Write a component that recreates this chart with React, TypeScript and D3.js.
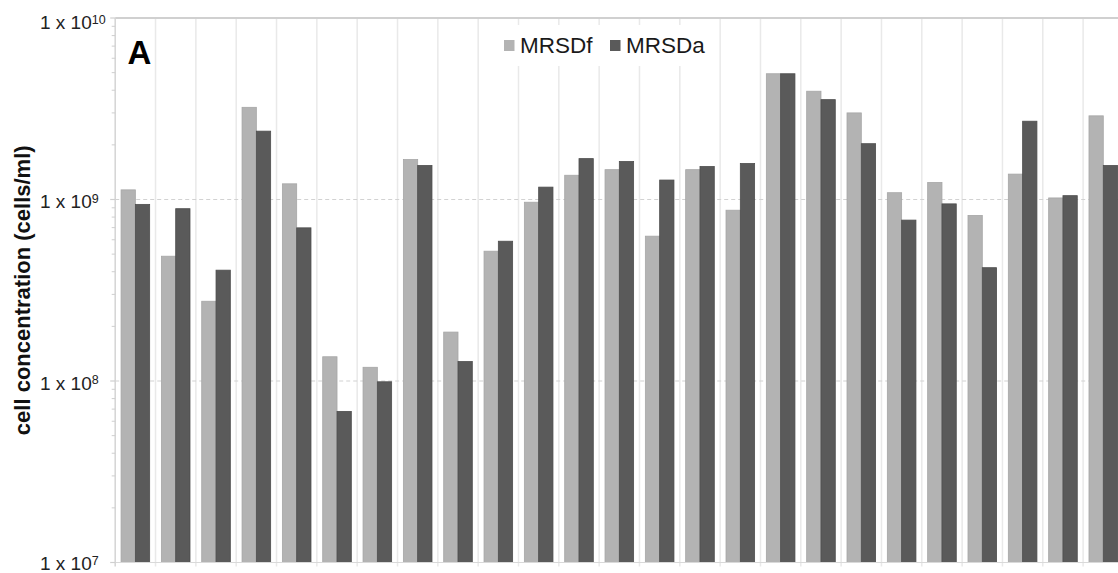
import React from "react";
import * as d3 from "d3";

const categories = Array.from({ length: 25 }, (_, i) => String(i + 1));
const seriesNames = ["MRSDf", "MRSDa"];
const MRSDf = [1.13e9, 4.87e8, 2.75e8, 3.22e9, 1.22e9, 1.36e8, 1.19e8, 1.66e9, 1.86e8, 5.19e8, 9.66e8, 1.36e9, 1.46e9, 6.28e8, 1.46e9, 8.73e8, 4.93e9, 3.95e9, 3.0e9, 1.09e9, 1.24e9, 8.17e8, 1.38e9, 1.02e9, 2.89e9];
const MRSDa = [9.4e8, 8.9e8, 4.08e8, 2.38e9, 6.98e8, 6.8e7, 9.9e7, 1.54e9, 1.28e8, 5.89e8, 1.17e9, 1.68e9, 1.62e9, 1.28e9, 1.52e9, 1.58e9, 4.93e9, 3.55e9, 2.03e9, 7.7e8, 9.46e8, 4.21e8, 2.7e9, 1.05e9, 1.54e9];
const tickExponents = [7, 8, 9, 10];
const gridDecades = [1e8, 1e9];
const yTitle = "cell concentration (cells/ml)";
const panelLabel = "A";

const W = 1118;
const H = 573;
const FONT = "'Liberation Sans', Arial, Helvetica, sans-serif";
const colors: Record<string, string> = { MRSDf: "#b3b3b3", MRSDa: "#5a5a5a" };
const strokes: Record<string, string> = { MRSDf: "#a6a6a6", MRSDa: "#4e4e4e" };

export default function App() {
  const left = 115.2;
  const step = 40.33;
  const top = 18;
  const bottom = 562.5;
  const x0 = d3.scaleBand<string>().domain(categories).range([left, left + step * categories.length]).padding(0);
  const x1 = d3.scaleBand<string>().domain(seriesNames).range([0, x0.bandwidth()]).paddingInner(0).paddingOuter(0.41);
  const y = d3.scaleLog().domain([1e7, 1e10]).range([bottom, top]);
  const values: Record<string, number[]> = { MRSDf, MRSDa };

  const minor: number[] = [];
  for (let e = 7; e < 10; e++) for (let m = 2; m <= 9; m++) minor.push(m * Math.pow(10, e));

  const boundaries = categories.map((c) => x0(c)!).concat([left + step * categories.length]);

  return (
    <svg width={W} height={H} style={{ position: "absolute", left: 0, top: 0, background: "#fff" }} fontFamily={FONT}>
      <rect x={0} y={0} width={W} height={H} fill="#fff" />
      {boundaries.slice(1).map((bx, i) => (
        <line key={"vg" + i} x1={bx} x2={bx} y1={top} y2={bottom + 4} stroke="#e9e9e9" strokeWidth={1.5} />
      ))}
      {gridDecades.map((v) => (
        <line key={"hg" + v} x1={left} x2={W} y1={y(v)} y2={y(v)} stroke="#d2d2d2" strokeWidth={1.2} strokeDasharray="4 3" />
      ))}
      <rect x={496} y={25} width={216} height={41} fill="#fff" />
      {categories.map((c, i) => (
        <g key={"g" + c} transform={`translate(${x0(c)},0)`}>
          {seriesNames.map((s) => {
            const v = values[s][i];
            return (
              <rect key={s} x={x1(s)} y={y(v)} width={x1.bandwidth()} height={bottom - y(v)} fill={colors[s]} stroke={strokes[s]} strokeWidth={0.8} />
            );
          })}
        </g>
      ))}
      <line x1={left} x2={W} y1={top} y2={top} stroke="#d0d0d0" strokeWidth={2} />
      <line x1={left} x2={W} y1={bottom} y2={bottom} stroke="#d9d9d9" strokeWidth={1.2} />
      <line x1={left} x2={left} y1={top} y2={bottom + 4} stroke="#d4d4d4" strokeWidth={1.5} />
      {minor.map((v) => (
        <line key={"mt" + v} x1={left - 3.5} x2={left} y1={y(v)} y2={y(v)} stroke="#cfcfcf" strokeWidth={1} />
      ))}
      {tickExponents.map((e) => (
        <line key={"Mt" + e} x1={left - 5} x2={left} y1={y(Math.pow(10, e))} y2={y(Math.pow(10, e))} stroke="#cfcfcf" strokeWidth={1.2} />
      ))}
      {tickExponents.map((e) => {
        const off = e === 10 ? 11.3 : e === 7 ? 7.5 : 8.8;
        const ty = y(Math.pow(10, e)) + off;
        return (
          <text key={"tl" + e} x={40} y={ty} fontSize={19} fill="#222">
            1 x 10
            <tspan fontSize={12.5} dy={-5.5}>{e}</tspan>
          </text>
        );
      })}
      <text transform={`translate(30,${(top + bottom) / 2}) rotate(-90)`} textAnchor="middle" fontSize={22} fontWeight="bold" fill="#111">
        {yTitle}
      </text>
      <text x={127.5} y={64} fontSize={33} fontWeight="bold" fill="#000">{panelLabel}</text>
      {seriesNames.map((s, i) => {
        const lx = i === 0 ? 504 : 610;
        return (
          <g key={"lg" + s}>
            <rect x={lx} y={40} width={10.5} height={11} fill={colors[s]} />
            <text x={lx + 16} y={53.3} fontSize={22.5} fill="#1a1a1a">{s}</text>
          </g>
        );
      })}
    </svg>
  );
}
